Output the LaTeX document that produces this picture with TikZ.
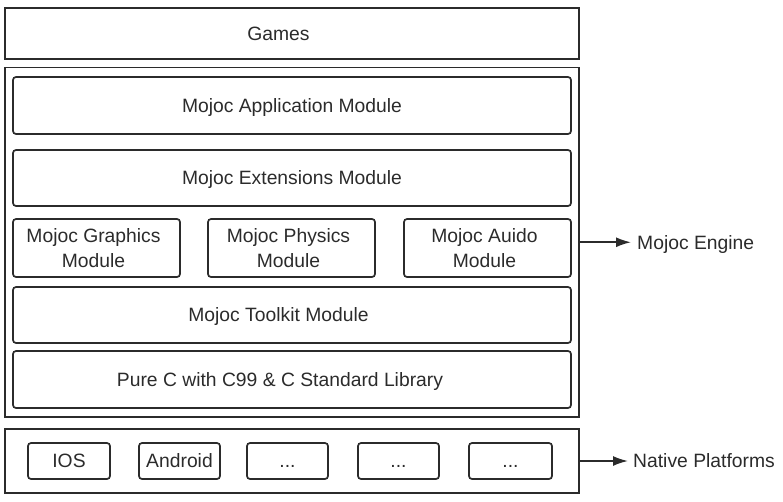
\documentclass[tikz,border=0pt]{standalone}
\usepackage{fontspec}
\setmainfont{Liberation Sans}
\usetikzlibrary{arrows.meta}
\definecolor{ink}{HTML}{2B2B2B}
\begin{document}
\begin{tikzpicture}[x=1pt,y=-1pt,
  outerbox/.style={draw=ink,line width=1.7pt,inner sep=0pt,minimum width=574pt},
  modbox/.style={draw=ink,line width=1.7pt,rounded corners=3pt,inner sep=0pt},
  txt/.style={font=\fontsize{19.3}{25}\selectfont,text=ink,inner sep=0pt,text height=13.8pt,text depth=0pt},
  mtxt/.style={font=\fontsize{19.3}{25}\selectfont,text=ink,inner sep=0pt,align=center},
  conn/.style={draw=ink,line width=1.7pt,-{Latex[length=15pt,width=10pt]}}]
\useasboundingbox (0,0) rectangle (783,501);
% Games
\node[outerbox,minimum height=51pt,label={[txt,xshift=-13.5pt]center:Games}] (games) at (292,33.5) {};
% Engine
\node[outerbox,minimum height=349.5pt] (engine) at (292,242.25) {};
\node[modbox,minimum width=558pt,minimum height=57pt,label={[txt]center:Mojoc Application Module}] (app) at (292,105.5) {};
\node[modbox,minimum width=558pt,minimum height=56pt,label={[txt]center:Mojoc Extensions Module}] (ext) at (292,178) {};
\node[modbox,minimum width=167pt,minimum height=58pt,label={[mtxt,xshift=-3pt]center:Mojoc Graphics\\Module}] (gfx) at (96.5,248) {};
\node[modbox,minimum width=167pt,minimum height=58pt,label={[mtxt,xshift=-3pt]center:Mojoc Physics\\Module}] (phy) at (291.5,248) {};
\node[modbox,minimum width=167pt,minimum height=58pt,label={[mtxt,xshift=-3pt]center:Mojoc Auido\\Module}] (aud) at (487.5,248) {};
\node[modbox,minimum width=558pt,minimum height=56pt,label={[txt,xshift=-13.5pt]center:Mojoc Toolkit Module}] (tool) at (292,315) {};
\node[modbox,minimum width=558pt,minimum height=57pt,label={[txt,xshift=-12pt]center:Pure C with C99 \& C Standard Library}] (purec) at (292,379.5) {};
% Native platforms
\node[outerbox,minimum height=64pt] (native) at (292,461) {};
\node[modbox,minimum width=82pt,minimum height=36pt,label={[txt]center:IOS}] (ios) at (69,461) {};
\node[modbox,minimum width=81pt,minimum height=36pt,label={[txt]center:Android}] (android) at (179.5,461) {};
\node[modbox,minimum width=81pt,minimum height=36pt,label={[txt]center:...}] (p3) at (287.5,461) {};
\node[modbox,minimum width=81pt,minimum height=36pt,label={[txt]center:...}] (p4) at (398.5,461) {};
\node[modbox,minimum width=83pt,minimum height=36pt,label={[txt]center:...}] (p5) at (510.5,461) {};
% Side labels
\node[txt,anchor=west] (englabel) at (637,242.25) {Mojoc Engine};
\node[txt,anchor=west] (natlabel) at (633,461) {Native Platforms};
\coordinate (engtip) at (631,242.25);
\coordinate (nattip) at (628,461);
\draw[conn] (engine.east) -- (engtip);
\draw[conn] (native.east) -- (nattip);
\end{tikzpicture}
\end{document}
